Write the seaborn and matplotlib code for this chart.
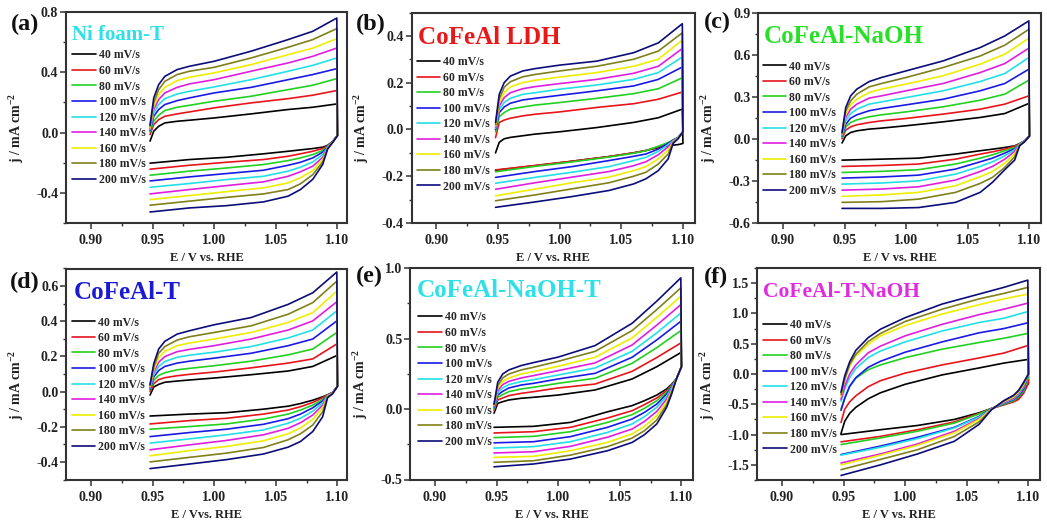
import matplotlib
matplotlib.use("Agg")
import matplotlib.pyplot as plt
import seaborn as sns
import pandas as pd
from matplotlib.ticker import MultipleLocator, FormatStrFormatter

# ---------------- data ----------------
rates = ['40 mV/s', '60 mV/s', '80 mV/s', '100 mV/s', '120 mV/s',
         '140 mV/s', '160 mV/s', '180 mV/s', '200 mV/s']

# potential grid of the anodic (forward) and cathodic (reverse) sweeps
E_up = [0.948, 0.951, 0.955, 0.960, 0.970, 0.980, 1.000, 1.030, 1.060, 1.080, 1.0995]
E_down = [1.100, 1.096, 1.092, 1.088, 1.080, 1.070, 1.060, 1.040, 1.010, 0.980, 0.948]

# (a) Ni foam-T
a_up = [
    [-0.057, 0.009, 0.042, 0.064, 0.075, 0.082, 0.097, 0.124, 0.153, 0.168, 0.190],
    [-0.013, 0.053, 0.086, 0.108, 0.124, 0.137, 0.164, 0.197, 0.225, 0.248, 0.279],
    [0.004, 0.075, 0.115, 0.146, 0.168, 0.181, 0.208, 0.241, 0.285, 0.314, 0.358],
    [0.013, 0.108, 0.153, 0.186, 0.212, 0.230, 0.263, 0.300, 0.351, 0.385, 0.424],
    [0.020, 0.130, 0.186, 0.225, 0.256, 0.274, 0.303, 0.351, 0.407, 0.446, 0.495],
    [0.026, 0.153, 0.219, 0.263, 0.300, 0.323, 0.351, 0.407, 0.462, 0.506, 0.561],
    [0.031, 0.175, 0.252, 0.300, 0.345, 0.367, 0.396, 0.451, 0.517, 0.560, 0.623],
    [0.040, 0.197, 0.285, 0.340, 0.385, 0.407, 0.433, 0.495, 0.566, 0.617, 0.690],
    [0.050, 0.230, 0.318, 0.373, 0.418, 0.440, 0.473, 0.540, 0.617, 0.672, 0.760],
]
a_down = [
    [-0.02, -0.060, -0.085, -0.097, -0.106, -0.115, -0.124, -0.141, -0.164, -0.179, -0.203],
    [-0.02, -0.060, -0.088, -0.106, -0.124, -0.141, -0.157, -0.179, -0.197, -0.217, -0.243],
    [-0.02, -0.060, -0.090, -0.119, -0.146, -0.168, -0.186, -0.212, -0.235, -0.256, -0.283],
    [-0.02, -0.062, -0.093, -0.130, -0.168, -0.197, -0.217, -0.250, -0.272, -0.294, -0.321],
    [-0.02, -0.063, -0.096, -0.146, -0.195, -0.230, -0.256, -0.290, -0.312, -0.338, -0.363],
    [-0.02, -0.064, -0.099, -0.164, -0.223, -0.260, -0.290, -0.327, -0.352, -0.378, -0.407],
    [-0.02, -0.065, -0.102, -0.179, -0.252, -0.300, -0.334, -0.367, -0.392, -0.418, -0.445],
    [-0.02, -0.066, -0.106, -0.195, -0.279, -0.340, -0.378, -0.407, -0.430, -0.455, -0.482],
    [-0.02, -0.067, -0.110, -0.212, -0.310, -0.378, -0.422, -0.460, -0.485, -0.500, -0.527],
]

# (b) CoFeAl LDH
b_up = [
    [-0.100, -0.055, -0.040, -0.034, -0.027, -0.020, -0.010, 0.008, 0.030, 0.050, 0.087],
    [-0.035, 0.030, 0.040, 0.048, 0.058, 0.065, 0.075, 0.094, 0.110, 0.129, 0.160],
    [-0.010, 0.054, 0.072, 0.087, 0.096, 0.104, 0.115, 0.133, 0.153, 0.174, 0.221],
    [0.000, 0.072, 0.096, 0.112, 0.126, 0.133, 0.146, 0.165, 0.186, 0.214, 0.267],
    [0.005, 0.087, 0.115, 0.133, 0.150, 0.157, 0.172, 0.190, 0.214, 0.243, 0.310],
    [0.010, 0.100, 0.136, 0.157, 0.174, 0.183, 0.196, 0.214, 0.240, 0.270, 0.346],
    [0.015, 0.115, 0.157, 0.182, 0.200, 0.210, 0.224, 0.243, 0.270, 0.300, 0.382],
    [0.020, 0.130, 0.180, 0.204, 0.225, 0.235, 0.250, 0.270, 0.300, 0.335, 0.413],
    [0.030, 0.150, 0.200, 0.228, 0.250, 0.260, 0.275, 0.292, 0.328, 0.370, 0.452],
]
b_down = [
    [-0.060, -0.065, -0.067, -0.070, -0.078, -0.090, -0.100, -0.116, -0.136, -0.155, -0.175],
    [-0.010, -0.035, -0.045, -0.058, -0.074, -0.090, -0.100, -0.116, -0.136, -0.154, -0.173],
    [-0.010, -0.035, -0.045, -0.056, -0.072, -0.091, -0.102, -0.118, -0.139, -0.158, -0.181],
    [-0.010, -0.035, -0.046, -0.060, -0.084, -0.105, -0.115, -0.133, -0.159, -0.180, -0.205],
    [-0.010, -0.036, -0.048, -0.065, -0.094, -0.119, -0.133, -0.159, -0.183, -0.205, -0.230],
    [-0.010, -0.037, -0.050, -0.074, -0.108, -0.138, -0.155, -0.180, -0.204, -0.228, -0.256],
    [-0.010, -0.038, -0.053, -0.088, -0.126, -0.159, -0.176, -0.204, -0.228, -0.255, -0.284],
    [-0.010, -0.039, -0.056, -0.105, -0.148, -0.183, -0.200, -0.228, -0.254, -0.280, -0.305],
    [-0.010, -0.040, -0.060, -0.126, -0.176, -0.211, -0.233, -0.261, -0.287, -0.310, -0.333],
]

# (c) CoFeAl-NaOH
c_up = [
    [-0.030, 0.021, 0.045, 0.057, 0.069, 0.076, 0.093, 0.121, 0.152, 0.180, 0.252],
    [0.000, 0.062, 0.085, 0.100, 0.116, 0.128, 0.145, 0.176, 0.211, 0.247, 0.306],
    [0.010, 0.085, 0.116, 0.135, 0.157, 0.171, 0.192, 0.228, 0.275, 0.318, 0.418],
    [0.020, 0.104, 0.147, 0.171, 0.200, 0.216, 0.242, 0.282, 0.342, 0.394, 0.496],
    [0.025, 0.128, 0.180, 0.211, 0.247, 0.263, 0.294, 0.342, 0.408, 0.465, 0.579],
    [0.030, 0.152, 0.211, 0.247, 0.290, 0.306, 0.342, 0.394, 0.472, 0.536, 0.646],
    [0.035, 0.176, 0.242, 0.282, 0.330, 0.354, 0.390, 0.449, 0.532, 0.603, 0.717],
    [0.040, 0.200, 0.270, 0.318, 0.370, 0.394, 0.437, 0.508, 0.590, 0.667, 0.780],
    [0.045, 0.223, 0.306, 0.354, 0.408, 0.437, 0.484, 0.555, 0.650, 0.733, 0.840],
]
c_down = [
    [0.02, -0.015, -0.035, -0.050, -0.062, -0.074, -0.085, -0.109, -0.138, -0.145, -0.152],
    [0.02, -0.015, -0.035, -0.052, -0.074, -0.093, -0.109, -0.145, -0.180, -0.190, -0.197],
    [0.02, -0.016, -0.036, -0.062, -0.085, -0.114, -0.138, -0.180, -0.220, -0.232, -0.240],
    [0.02, -0.017, -0.037, -0.070, -0.102, -0.138, -0.164, -0.216, -0.259, -0.272, -0.280],
    [0.02, -0.018, -0.038, -0.078, -0.121, -0.164, -0.197, -0.252, -0.300, -0.315, -0.323],
    [0.02, -0.019, -0.040, -0.090, -0.145, -0.197, -0.233, -0.294, -0.342, -0.358, -0.366],
    [0.02, -0.020, -0.042, -0.109, -0.173, -0.233, -0.270, -0.335, -0.382, -0.400, -0.410],
    [0.02, -0.021, -0.045, -0.128, -0.204, -0.275, -0.318, -0.382, -0.430, -0.448, -0.453],
    [0.02, -0.022, -0.050, -0.152, -0.220, -0.310, -0.382, -0.453, -0.490, -0.496, -0.496],
]

# (d) CoFeAl-T
d_up = [
    [-0.020, 0.026, 0.041, 0.053, 0.060, 0.066, 0.077, 0.096, 0.117, 0.143, 0.205],
    [0.000, 0.045, 0.068, 0.079, 0.090, 0.098, 0.111, 0.135, 0.162, 0.186, 0.271],
    [0.010, 0.064, 0.092, 0.107, 0.124, 0.132, 0.147, 0.173, 0.209, 0.242, 0.336],
    [0.015, 0.083, 0.120, 0.143, 0.162, 0.173, 0.190, 0.218, 0.261, 0.299, 0.402],
    [0.020, 0.096, 0.143, 0.171, 0.195, 0.207, 0.224, 0.256, 0.305, 0.350, 0.459],
    [0.025, 0.111, 0.167, 0.199, 0.227, 0.240, 0.261, 0.299, 0.350, 0.402, 0.511],
    [0.030, 0.124, 0.192, 0.229, 0.261, 0.276, 0.299, 0.336, 0.393, 0.449, 0.571],
    [0.035, 0.139, 0.218, 0.256, 0.293, 0.312, 0.336, 0.374, 0.440, 0.506, 0.628],
    [0.040, 0.158, 0.242, 0.286, 0.327, 0.346, 0.380, 0.421, 0.496, 0.562, 0.680],
]
d_down = [
    [0.03, -0.005, -0.018, -0.030, -0.049, -0.068, -0.083, -0.100, -0.120, -0.128, -0.139],
    [0.03, -0.006, -0.019, -0.035, -0.062, -0.086, -0.105, -0.128, -0.152, -0.165, -0.184],
    [0.03, -0.007, -0.020, -0.045, -0.077, -0.105, -0.128, -0.156, -0.184, -0.199, -0.214],
    [0.03, -0.008, -0.021, -0.053, -0.092, -0.128, -0.154, -0.186, -0.214, -0.233, -0.256],
    [0.03, -0.009, -0.022, -0.064, -0.111, -0.152, -0.180, -0.218, -0.246, -0.269, -0.293],
    [0.03, -0.010, -0.023, -0.077, -0.133, -0.177, -0.209, -0.246, -0.278, -0.303, -0.331],
    [0.03, -0.011, -0.025, -0.092, -0.158, -0.207, -0.240, -0.280, -0.312, -0.336, -0.365],
    [0.03, -0.012, -0.028, -0.115, -0.190, -0.240, -0.274, -0.318, -0.350, -0.374, -0.400],
    [0.03, -0.013, -0.035, -0.143, -0.227, -0.284, -0.316, -0.355, -0.387, -0.412, -0.438],
]

# (e) CoFeAl-NaOH-T
e_up = [
    [-0.030, 0.040, 0.052, 0.064, 0.076, 0.083, 0.099, 0.135, 0.213, 0.300, 0.400],
    [-0.010, 0.064, 0.078, 0.095, 0.111, 0.123, 0.149, 0.177, 0.267, 0.365, 0.468],
    [0.000, 0.083, 0.102, 0.123, 0.142, 0.154, 0.182, 0.218, 0.324, 0.435, 0.556],
    [0.010, 0.099, 0.125, 0.149, 0.170, 0.182, 0.213, 0.253, 0.367, 0.490, 0.622],
    [0.015, 0.114, 0.149, 0.173, 0.194, 0.208, 0.241, 0.291, 0.409, 0.540, 0.680],
    [0.020, 0.130, 0.173, 0.196, 0.220, 0.237, 0.272, 0.327, 0.454, 0.595, 0.740],
    [0.025, 0.149, 0.196, 0.220, 0.248, 0.265, 0.303, 0.367, 0.504, 0.650, 0.800],
    [0.030, 0.166, 0.220, 0.248, 0.277, 0.296, 0.338, 0.409, 0.556, 0.705, 0.859],
    [0.035, 0.190, 0.248, 0.277, 0.308, 0.329, 0.368, 0.450, 0.608, 0.765, 0.930],
]
e_down = [
    [0.30, 0.215, 0.175, 0.142, 0.099, 0.059, 0.024, -0.020, -0.095, -0.123, -0.130],
    [0.30, 0.215, 0.170, 0.130, 0.078, 0.031, -0.012, -0.064, -0.130, -0.161, -0.170],
    [0.30, 0.215, 0.165, 0.118, 0.059, 0.005, -0.040, -0.095, -0.161, -0.194, -0.203],
    [0.30, 0.215, 0.158, 0.106, 0.035, -0.024, -0.071, -0.130, -0.196, -0.232, -0.240],
    [0.30, 0.215, 0.150, 0.090, 0.012, -0.054, -0.106, -0.166, -0.232, -0.267, -0.277],
    [0.30, 0.215, 0.140, 0.071, -0.017, -0.088, -0.142, -0.200, -0.265, -0.303, -0.312],
    [0.30, 0.215, 0.130, 0.052, -0.047, -0.123, -0.177, -0.237, -0.296, -0.336, -0.343],
    [0.30, 0.215, 0.120, 0.031, -0.078, -0.154, -0.206, -0.267, -0.327, -0.367, -0.378],
    [0.30, 0.215, 0.105, 0.012, -0.106, -0.182, -0.237, -0.296, -0.355, -0.390, -0.410],
]

# (f) CoFeAl-T-NaOH
f_up = [
    [-0.98, -0.78, -0.65, -0.55, -0.41, -0.31, -0.17, -0.015, 0.10, 0.18, 0.24],
    [-0.80, -0.58, -0.46, -0.36, -0.21, -0.11, 0.015, 0.15, 0.265, 0.345, 0.47],
    [-0.58, -0.40, -0.21, -0.07, 0.07, 0.15, 0.27, 0.41, 0.52, 0.59, 0.67],
    [-0.60, -0.40, -0.20, -0.06, 0.11, 0.21, 0.36, 0.53, 0.68, 0.75, 0.845],
    [-0.45, -0.25, -0.06, 0.09, 0.27, 0.38, 0.53, 0.71, 0.85, 0.92, 1.03],
    [-0.42, -0.20, 0.00, 0.15, 0.35, 0.46, 0.63, 0.82, 0.98, 1.07, 1.17],
    [-0.36, -0.09, 0.13, 0.30, 0.49, 0.63, 0.80, 0.99, 1.144, 1.24, 1.32],
    [-0.34, -0.09, 0.16, 0.326, 0.536, 0.67, 0.867, 1.07, 1.24, 1.33, 1.43],
    [-0.30, -0.03, 0.20, 0.39, 0.60, 0.74, 0.93, 1.155, 1.32, 1.43, 1.55],
]
f_down = [
    [-0.15, -0.30, -0.40, -0.45, -0.50, -0.57, -0.64, -0.75, -0.85, -0.92, -1.00],
    [-0.15, -0.32, -0.42, -0.46, -0.51, -0.57, -0.65, -0.79, -0.92, -1.03, -1.12],
    [-0.05, -0.28, -0.38, -0.44, -0.50, -0.57, -0.66, -0.81, -0.945, -1.055, -1.165],
    [0.00, -0.25, -0.36, -0.42, -0.49, -0.57, -0.70, -0.88, -1.045, -1.19, -1.33],
    [0.00, -0.22, -0.34, -0.41, -0.48, -0.575, -0.71, -0.89, -1.066, -1.21, -1.34],
    [0.00, -0.20, -0.32, -0.40, -0.47, -0.58, -0.735, -0.945, -1.155, -1.32, -1.47],
    [0.00, -0.18, -0.30, -0.38, -0.46, -0.58, -0.75, -0.97, -1.177, -1.34, -1.50],
    [0.00, -0.16, -0.28, -0.36, -0.45, -0.585, -0.79, -1.03, -1.25, -1.41, -1.58],
    [0.00, -0.14, -0.27, -0.35, -0.44, -0.59, -0.83, -1.11, -1.32, -1.50, -1.675],
]

# ---------------- style ----------------
line_colors = ['#000000', '#e8141c', '#22d022', '#1a1ae6', '#22e0e6',
               '#e01ee0', '#eeee00', '#80801a', '#0c0c7a']

FIG_W, FIG_H = 1047, 525

panels = [
    dict(tag='(a)', name='Ni foam-T', up=a_up, down=a_down, ncol='#2ee0e8', nsize=15,
         rect=(66, 12, 281, 211), ylim=(-0.6, 0.8), major=0.4, minor=0.2,
         tagxy=(11, 30.5), namexy=(72, 40), legxy=(72, 49.5), xlabel='E / V vs. RHE'),
    dict(tag='(b)', name='CoFeAl LDH', up=b_up, down=b_down, ncol='#e81818', nsize=18,
         rect=(411.5, 12.5, 283, 210.5), ylim=(-0.4, 0.5), major=0.2, minor=0.1,
         tagxy=(356, 30.5), namexy=(418.3, 44), legxy=(416.7, 56.2), xlabel='E / V vs. RHE'),
    dict(tag='(c)', name='CoFeAl-NaOH', up=c_up, down=c_down, ncol='#28e028', nsize=18,
         rect=(758, 12.5, 283, 210.5), ylim=(-0.6, 0.9), major=0.3, minor=0.15,
         tagxy=(704, 28.3), namexy=(763.3, 43.3), legxy=(762.7, 60.5), xlabel='E / V vs. RHE'),
    dict(tag='(d)', name='CoFeAl-T', up=d_up, down=d_down, ncol='#1a1ad2', nsize=18,
         rect=(66, 268.5, 281, 211), ylim=(-0.5, 0.7), major=0.2, minor=0.1,
         tagxy=(10, 288), namexy=(73.3, 298.7), legxy=(71.7, 316.5), xlabel='E / Vvs. RHE'),
    dict(tag='(e)', name='CoFeAl-NaOH-T', up=e_up, down=e_down, ncol='#2ee0e8', nsize=18,
         rect=(410, 268, 283, 211.5), ylim=(-0.5, 1.0), major=0.5, minor=0.25,
         tagxy=(356, 282), namexy=(416.7, 297), legxy=(418.3, 311.5), xlabel='E / V vs. RHE'),
    dict(tag='(f)', name='CoFeAl-T-NaOH', up=f_up, down=f_down, ncol='#e02ce0', nsize=15.5,
         rect=(757, 268, 283, 212), ylim=(-1.75, 1.75), major=0.5, minor=0.25,
         tagxy=(704, 282.7), namexy=(763.3, 297), legxy=(763.3, 319.2), xlabel='E / V vs. RHE'),
]

sns.set_theme(style='white')
plt.rcParams['font.family'] = ['Liberation Serif', 'DejaVu Serif']
plt.rcParams['font.weight'] = 'bold'
plt.rcParams['axes.unicode_minus'] = False
plt.rcParams['mathtext.fontset'] = 'custom'
plt.rcParams['mathtext.rm'] = 'Liberation Serif:bold'
plt.rcParams['mathtext.it'] = 'Liberation Serif:bold'
plt.rcParams['mathtext.bf'] = 'Liberation Serif:bold'

fig = plt.figure(figsize=(FIG_W / 100, FIG_H / 100), dpi=100)
fig.patch.set_facecolor('white')


def fx(px):
    return px / FIG_W


def fy(py):
    return 1 - py / FIG_H


PX_PER_V = 1233.0
for p in panels:
    L, T, W, H = p['rect']
    ax = fig.add_axes([fx(L), fy(T + H), W / FIG_W, H / FIG_H])
    ax.set_facecolor('white')

    rows = []
    for i, r in enumerate(rates):
        Es = E_up + E_down
        js = p['up'][i] + p['down'][i]
        for k, (e, j) in enumerate(zip(Es, js)):
            rows.append(dict(E=e, j=j, rate=r, step=k))
    df = pd.DataFrame(rows)
    sns.lineplot(data=df, x='E', y='j', hue='rate', hue_order=rates,
                 palette=line_colors, sort=False, estimator=None,
                 linewidth=1.2, ax=ax, legend=False)

    x0 = 0.95 - 86.5 / PX_PER_V
    ax.set_xlim(x0, x0 + W / PX_PER_V)
    ax.set_ylim(*p['ylim'])
    ax.xaxis.set_major_locator(MultipleLocator(0.05))
    ax.xaxis.set_minor_locator(MultipleLocator(0.025))
    ax.yaxis.set_major_locator(MultipleLocator(p['major']))
    ax.yaxis.set_minor_locator(MultipleLocator(p['minor']))
    ax.xaxis.set_major_formatter(FormatStrFormatter('%.2f'))
    ax.yaxis.set_major_formatter(FormatStrFormatter('%.1f'))
    ax.tick_params(axis='both', which='major', direction='out', length=4, width=1.1,
                   labelsize=10, pad=1.5, color='#333333', labelcolor='#222222',
                   bottom=True, left=True, top=False, right=False)
    ax.tick_params(axis='x', which='major', pad=4)
    ax.tick_params(axis='both', which='minor', direction='out', length=2.5, width=1.0,
                   color='#333333', bottom=True, left=True, top=False, right=False)
    for s in ax.spines.values():
        s.set_visible(True)
        s.set_color('#333333')
        s.set_linewidth(1.5)

    ax.set_xlabel(p['xlabel'], fontsize=9, fontweight='bold', color='#222222')
    ax.set_ylabel('j / mA cm$^{-2}$', fontsize=10, fontweight='bold', color='#222222')
    ax.xaxis.set_label_coords(0.5, -0.138)
    ax.yaxis.set_label_coords(-0.142, 0.45)

    handles = ax.get_lines()[:len(rates)]
    ax.legend(handles, rates, loc='upper left',
              bbox_to_anchor=(fx(p['legxy'][0]), fy(p['legxy'][1])),
              bbox_transform=fig.transFigure, frameon=False,
              prop=dict(family='Liberation Serif', weight='bold', size=8.5),
              handlelength=2.0, handletextpad=0.25, labelspacing=0.3,
              borderpad=0, borderaxespad=0)

    fig.text(fx(p['namexy'][0]), fy(p['namexy'][1]), p['name'], color=p['ncol'],
             fontsize=p['nsize'], fontweight='bold', ha='left', va='baseline')
    fig.text(fx(p['tagxy'][0]), fy(p['tagxy'][1]), p['tag'], color='#111111',
             fontsize=17.5, fontweight='bold', ha='left', va='baseline')

fig.savefig('out.png', dpi=100, facecolor='white')
